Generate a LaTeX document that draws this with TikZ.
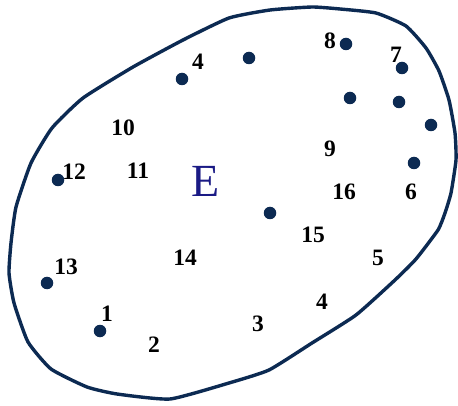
\documentclass[tikz,border=0pt]{standalone}
\usepackage{fontspec}
\setmainfont{Liberation Serif}
\begin{document}
\begin{tikzpicture}[x=1pt,y=-1pt,
  outline/.style={draw=navyline,line width=3.4pt,line join=round},
  pt/.style={circle,fill=navyline,inner sep=0pt,minimum size=12.5pt},
  num/.style={font=\fontsize{23.5}{23.5}\selectfont\bfseries,inner sep=0pt,text=black},
  bigE/.style={font=\fontsize{46}{46}\selectfont,inner sep=0pt,text=navyE}]
\definecolor{navyline}{HTML}{0C2A52}
\definecolor{navyE}{HTML}{1A1A85}
\useasboundingbox (0,0) rectangle (458,406);
\fill[white] (0,0) rectangle (458,406);
\draw[outline] plot[smooth cycle,tension=0.3] coordinates {
 (183,40) (229,18) (270,10) (312,7) (340,9) (376,13) (406,26) (426,48)
 (439,71) (449,100) (455,133) (456,160) (451,193) (445,213) (438,230)
 (416,259) (395,280) (356,315) (312,343) (269,370) (229,383) (170,399)
 (117,394) (87,387) (51,369) (28,342) (14,303) (9,273) (11,243) (16,207)
 (31,163) (52,128) (83,98) (133,67)};
% dots
\node[pt] (d1) at (182,79) {};
\node[pt] (d2) at (249,58) {};
\node[pt] (d3) at (346,44) {};
\node[pt] (d4) at (402,68) {};
\node[pt] (d5) at (350,98) {};
\node[pt] (d6) at (399,102) {};
\node[pt] (d7) at (431,125) {};
\node[pt] (d8) at (414,163) {};
\node[pt] (d9) at (270,213) {};
\node[pt] (d10) at (58,180) {};
\node[pt] (d11) at (47,283) {};
\node[pt] (d12) at (100,331) {};
% labels
\node[num] (l4a) at (198,62) {4};
\node[num] (l12) at (74,172) {12};
\node[num] (l10) at (123,128) {10};
\node[num] (l11) at (138,171) {11};
\node[bigE] (E) at (206,181) {E};
\node[num] (l8) at (330,41) {8};
\node[num] (l7) at (396,55) {7};
\node[num] (l9) at (330,149) {9};
\node[num] (l16) at (344,192) {16};
\node[num] (l6) at (411,192) {6};
\node[num] (l15) at (313,235) {15};
\node[num] (l5) at (378,258) {5};
\node[num] (l4b) at (322,302) {4};
\node[num] (l3) at (258,324) {3};
\node[num] (l13) at (66,267) {13};
\node[num] (l1) at (107,314) {1};
\node[num] (l2) at (154,345) {2};
\node[num] (l14) at (185,258) {14};
\end{tikzpicture}
\end{document}
